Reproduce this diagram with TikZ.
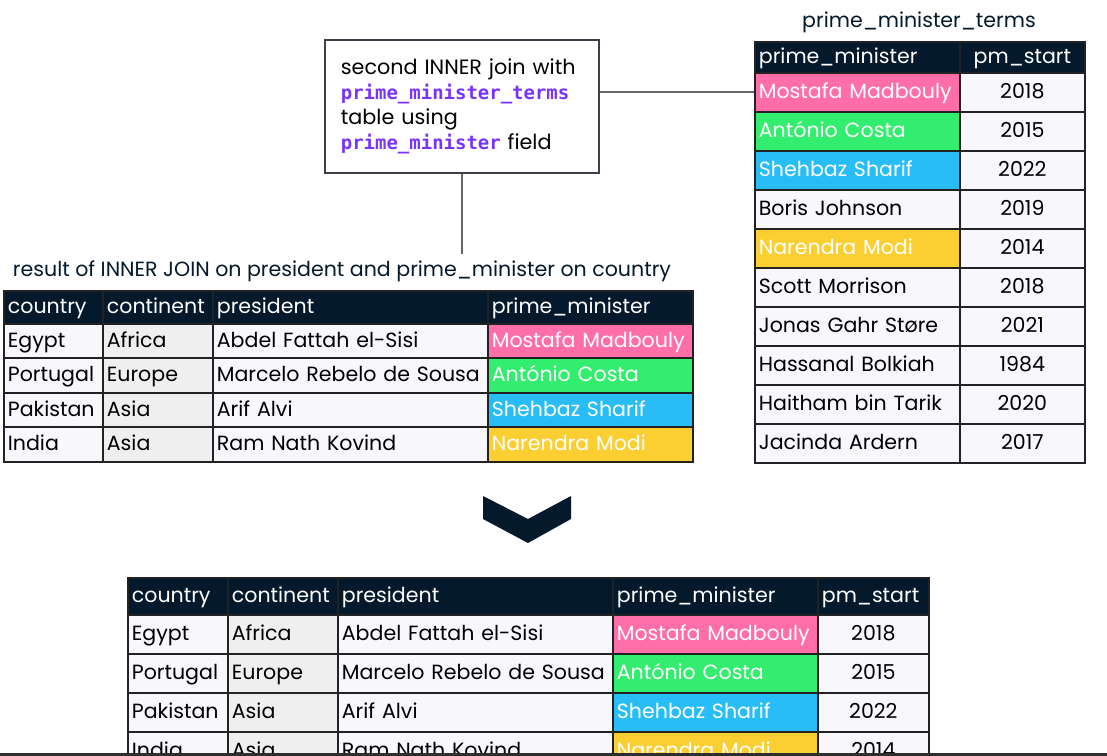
\documentclass[tikz,border=0pt]{standalone}
\usepackage{fontspec}
\setmainfont{Poppins}
\setmonofont{DejaVu Sans Mono}
\usetikzlibrary{positioning}

\definecolor{navy}{HTML}{05192D}
\definecolor{pinkc}{HTML}{FF6EA9}
\definecolor{greenc}{HTML}{33EE6E}
\definecolor{bluec}{HTML}{29BDF8}
\definecolor{yellowc}{HTML}{FBCE32}
\definecolor{cellbg}{HTML}{F7F7FC}
\definecolor{contbg}{HTML}{EFEFEF}
\definecolor{gridc}{HTML}{222222}
\definecolor{purp}{HTML}{7933FF}
\definecolor{linec}{HTML}{666666}
\definecolor{boxc}{HTML}{3A3F4A}
\definecolor{barc}{HTML}{2E2E2E}

\newlength\px
\setlength\px{0.02cm}

\begin{document}
\begin{tikzpicture}[x=0.02cm, y=-0.02cm, font=\fontsize{11.7}{14}\selectfont,
    cell/.style 2 args={anchor=north west, draw=gridc, line width=1pt, fill=cellbg,
        minimum width=#1\px, minimum height=#2\px, text width=#1\px-8\px,
        text height=0.7em, text depth=0pt,
        inner xsep=4\px, inner ysep=0pt, align=left},
    hcell/.style 2 args={cell={#1}{#2}, fill=navy, text=white},
    conn/.style={draw=linec, line width=1pt}]

    \clip (0,0) rectangle (1107,756);

    % Join note
    \node (box) [anchor=north west, draw=boxc, line width=1pt, minimum width=274\px,
        minimum height=133\px, text width=242\px, inner xsep=16\px, align=left,
        font=\fontsize{11.8}{14.2}\selectfont] at (324,39)
        {second INNER join with\\
         {\ttfamily\bfseries\fontsize{10.8}{14.2}\selectfont\color{purp}prime\_minister\_terms}\\
         table using\\
         {\ttfamily\bfseries\fontsize{10.8}{14.2}\selectfont\color{purp}prime\_minister} field};

    % prime_minister_terms table
    \node (pmttitle) [text=navy] at (919,22) {prime\_minister\_terms};
    \node[hcell={205}{31}] (th1) at (754,41) {prime\_minister};
    \node[hcell={125}{31}, align=center] (th2) at (959,41) {pm\_start};
    \foreach \n/\yr/\f/\tc [count=\i] in {Mostafa Madbouly/2018/pinkc/white,
        António Costa/2015/greenc/white, Shehbaz Sharif/2022/bluec/white,
        Boris Johnson/2019/cellbg/black, Narendra Modi/2014/yellowc/white,
        Scott Morrison/2018/cellbg/black, Jonas Gahr Støre/2021/cellbg/black,
        Hassanal Bolkiah/1984/cellbg/black, Haitham bin Tarik/2020/cellbg/black,
        Jacinda Ardern/2017/cellbg/black} {
        \pgfmathsetmacro\y{72+39*(\i-1)}
        \node[cell={205}{39}, fill=\f, text=\tc] (ta\i) at (754,\y) {\n};
        \node[cell={125}{39}, align=center] (tb\i) at (959,\y) {\yr};
    }

    % first join result
    \node (restitle) [text=navy] at (342,271) {result of INNER JOIN on president and prime\_minister on country};
    \foreach \t/\x/\w [count=\j] in {country/3/99, continent/102/110,
        president/212/275, prime\_minister/487/205}
        \node[hcell={\w}{33}] (rh\j) at (\x,290) {\t};
    \foreach \a/\b/\c/\d/\f [count=\i] in {Egypt/Africa/Abdel Fattah el-Sisi/Mostafa Madbouly/pinkc,
        Portugal/Europe/Marcelo Rebelo de Sousa/António Costa/greenc,
        Pakistan/Asia/Arif Alvi/Shehbaz Sharif/bluec,
        India/Asia/Ram Nath Kovind/Narendra Modi/yellowc} {
        \pgfmathsetmacro\y{323+34.5*(\i-1)}
        \node[cell={99}{34.5}] (ra\i) at (3,\y) {\a};
        \node[cell={110}{34.5}, fill=contbg] (rb\i) at (102,\y) {\b};
        \node[cell={275}{34.5}] (rc\i) at (212,\y) {\c};
        \node[cell={205}{34.5}, fill=\f, text=white] (rd\i) at (487,\y) {\d};
    }

    % connectors
    \draw[conn] (ta1.west) -- (ta1.west -| box.east);
    \draw[conn] (box.south) -- (box.south |- restitle.north);

    % chevron
    \fill[navy] (483,496) -- (528,519) -- (571,496) -- (571,519) -- (528,543) -- (483,519) -- cycle;

    % final result
    \foreach \t/\x/\w [count=\j] in {country/127/100, continent/227/110,
        president/337/275, prime\_minister/612/205, pm\_start/817/111}
        \node[hcell={\w}{37}] (bh\j) at (\x,577) {\t};
    \foreach \a/\b/\c/\d/\f/\yr [count=\i] in {Egypt/Africa/Abdel Fattah el-Sisi/Mostafa Madbouly/pinkc/2018,
        Portugal/Europe/Marcelo Rebelo de Sousa/António Costa/greenc/2015,
        Pakistan/Asia/Arif Alvi/Shehbaz Sharif/bluec/2022,
        India/Asia/Ram Nath Kovind/Narendra Modi/yellowc/2014} {
        \pgfmathsetmacro\y{614+39*(\i-1)}
        \node[cell={100}{39}] (ba\i) at (127,\y) {\a};
        \node[cell={110}{39}, fill=contbg] (bb\i) at (227,\y) {\b};
        \node[cell={275}{39}] (bc\i) at (337,\y) {\c};
        \node[cell={205}{39}, fill=\f, text=white] (bd\i) at (612,\y) {\d};
        \node[cell={111}{39}, align=center] (be\i) at (817,\y) {\yr};
    }

    % bottom edge
    \fill[barc] (0,753) rectangle (1107,756);
\end{tikzpicture}
\end{document}
